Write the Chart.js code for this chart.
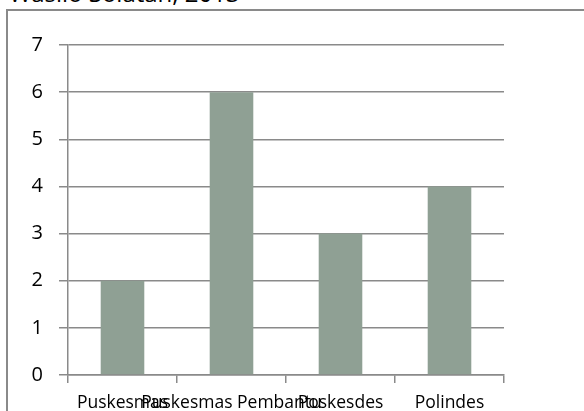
<!DOCTYPE html>
<html><head><meta charset="utf-8">
<script src="https://cdn.jsdelivr.net/npm/chart.js@4"></script>
<style>
html,body{margin:0;padding:0;background:#fff;}
#wrap{position:relative;width:584px;height:411px;overflow:hidden;}
#frame{position:absolute;left:6px;top:9px;width:700px;height:500px;border-left:2px solid #8a8a8a;border-top:2px solid #8a8a8a;}
#title{position:absolute;left:9px;top:-24px;font-family:"Open Sans",sans-serif;font-size:24px;color:#000;white-space:nowrap;}
canvas{position:absolute;left:0;top:0;}
</style></head>
<body><div id="wrap"><div id="frame"></div><div id="title">Wasilo Solatan, 2013</div><canvas id="c" width="584" height="411"></canvas></div>
<script>
const categories = ["Puskesmas", "Puskesmas Pembantu", "Poskesdes", "Polindes"];
const values = [2, 6, 3, 4];
const yTicks = [0, 1, 2, 3, 4, 5, 6, 7];

new Chart(document.getElementById('c'), {
  type: 'bar',
  data: { labels: categories, datasets: [{ data: values, backgroundColor: '#8fa094', borderWidth: 0, categoryPercentage: 0.4, barPercentage: 1.0 }] },
  options: {
    responsive: false, animation: false,
    layout: { padding: { top: 45, right: 80, left: 0, bottom: 0 } },
    plugins: { legend: { display: false }, tooltip: { enabled: false } },
    scales: {
      x: {
        offset: true,
        grid: { offset: true, drawOnChartArea: false, drawTicks: true, tickLength: 8, color: '#8a8a8a', lineWidth: 1.5 },
        border: { color: '#8a8a8a', width: 1.5 },
        ticks: { autoSkip: false, maxRotation: 0, minRotation: 0, color: '#000', padding: 10, font: { family: 'Open Sans', size: 17.5 } },
        afterFit(s) { s.height = 36; }
      },
      y: {
        min: 0, max: 7,
        afterBuildTicks(s) { s.ticks = yTicks.map(v => ({ value: v })); },
        grid: { color: '#8a8a8a', lineWidth: 1.5, tickLength: 9 },
        border: { color: '#8a8a8a', width: 1.5 },
        ticks: { color: '#000', padding: 16, font: { family: 'Open Sans', size: 20 } },
        afterFit(s) { s.width = 68; }
      }
    }
  }
});
</script></body></html>
